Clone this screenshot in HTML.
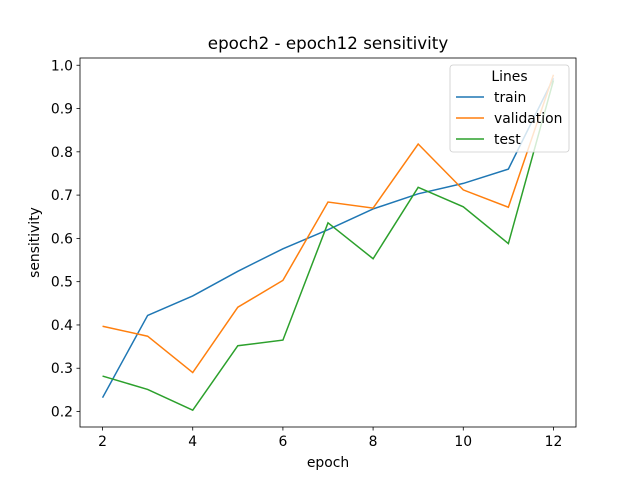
<!DOCTYPE html>
<html><head><meta charset="utf-8"><style>
body{margin:0;background:#fff;}
svg{display:block;font-family:"DejaVu Sans","Liberation Sans",sans-serif;}
</style></head><body>
<svg id="chart" width="640" height="480">
<rect width="640" height="480" fill="#fff"/>
<text x="328" y="49" font-size="16.7" text-anchor="middle">epoch2 - epoch12 sensitivity</text>
<g id="axes"></g>
<g id="series"></g>
<rect x="80" y="58" width="496" height="369" fill="none" stroke="#000" stroke-width="0.8"/>
<text x="328" y="467" font-size="13.9" text-anchor="middle">epoch</text>
<text transform="translate(39,242.5) rotate(-90)" font-size="13.9" text-anchor="middle">sensitivity</text>
<g id="legend">
<rect x="450" y="65" width="119" height="87" rx="3" fill="#fff" fill-opacity="0.8" stroke="#ccc" stroke-width="0.8"/>
<text x="509.5" y="81" font-size="13.9" text-anchor="middle">Lines</text>
</g>
</svg>
<script>
const epochs=[2,3,4,5,6,7,8,9,10,11,12];
const train=[0.232,0.422,0.467,0.524,0.576,0.620,0.668,0.703,0.727,0.760,0.970];
const validation=[0.397,0.374,0.290,0.441,0.503,0.684,0.670,0.818,0.712,0.672,0.978];
const test=[0.282,0.251,0.203,0.352,0.365,0.636,0.553,0.718,0.673,0.588,0.965];
const xTicks=[2,4,6,8,10,12];
const yTicks=[0.2,0.3,0.4,0.5,0.6,0.7,0.8,0.9,1.0];
const seriesNames=["train","validation","test"];
const colors=["#1f77b4","#ff7f0e","#2ca02c"];
const NS="http://www.w3.org/2000/svg";
const L=80,R=576,T=58,B=427;
const all=train.concat(validation,test);
let mn=Math.min(...all),mx=Math.max(...all),pad=(mx-mn)*0.05;
const y0=mn-pad,y1=mx+pad;
const x0=Math.min(...epochs)-0.5,x1=Math.max(...epochs)+0.5;
const sx=v=>L+(v-x0)/(x1-x0)*(R-L);
const sy=v=>B-(v-y0)/(y1-y0)*(B-T);
function mk(t,a,p){const e=document.createElementNS(NS,t);for(const k in a)e.setAttribute(k,a[k]);p.appendChild(e);return e;}
const ax=document.getElementById('axes');
xTicks.forEach(v=>{const x=sx(v);
const l=mk('line',{x1:x,x2:x,y1:B,y2:B+3.5,stroke:'#000','stroke-width':0.8},ax);


const t=mk('text',{x:x,y:B+19,'font-size':13.9,'text-anchor':'middle'},ax);t.textContent=v;

});
yTicks.forEach(v=>{const y=sy(v);
const l=mk('line',{x1:L-3.5,x2:L,y1:y,y2:y,stroke:'#000','stroke-width':0.8},ax);


const t=mk('text',{x:L-7,y:y+5,'font-size':13.9,'text-anchor':'end'},ax);t.textContent=v.toFixed(1);

});
const sg=document.getElementById('series');const lg=document.getElementById('legend');
[train,validation,test].forEach((d,i)=>{
const p=mk('polyline',{points:d.map((v,j)=>sx(epochs[j])+','+sy(v)).join(' '),fill:'none',stroke:colors[i],'stroke-width':1.5},sg);


const ly=97+i*21;
const ll=mk('line',{x1:456,x2:484,y1:ly,y2:ly,stroke:colors[i],'stroke-width':1.5},lg);


const lt=mk('text',{x:494,y:ly+5,'font-size':13.9},lg);lt.textContent=seriesNames[i];


});
</script>
</body></html>
